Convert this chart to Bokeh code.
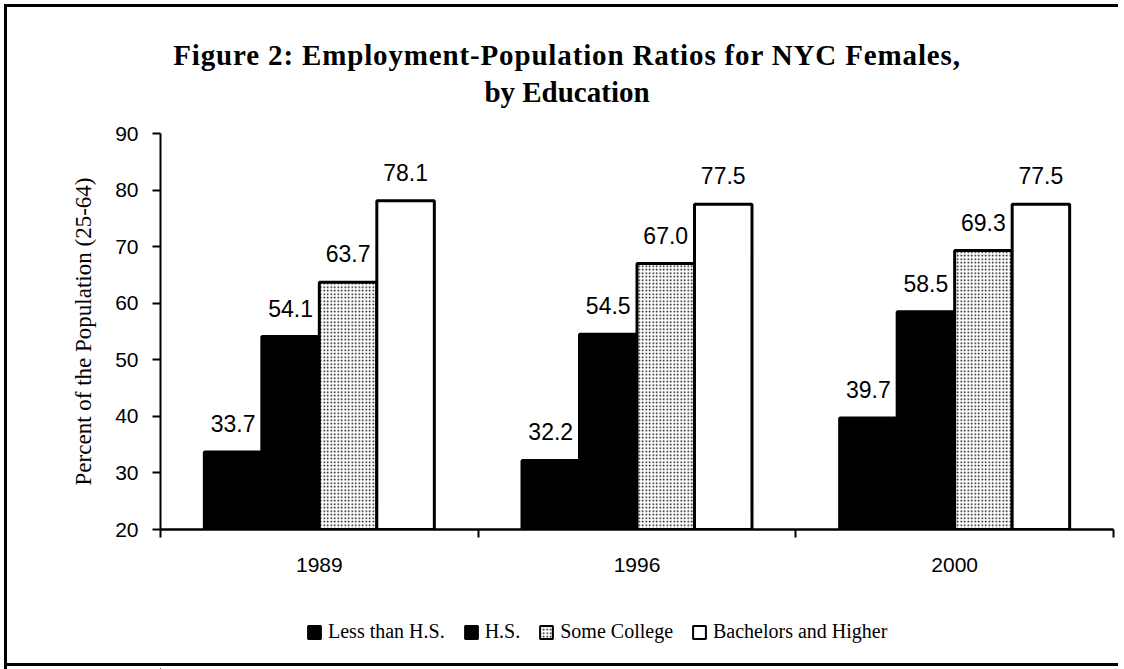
from bokeh.plotting import figure
from bokeh.models import (ColumnDataSource, Range1d, FixedTicker, Legend, LegendItem,
                          LabelSet, Div, Column)
from bokeh.core.properties import value
from bokeh.transform import dodge
from bokeh.embed import file_html
from bokeh.resources import INLINE

title_line1 = "Figure 2: Employment-Population Ratios for NYC Females,"
title_line2 = "by Education"
years = ["1989", "1996", "2000"]
less_hs = [33.7, 32.2, 39.7]
hs = [54.1, 54.5, 58.5]
some_college = [63.7, 67.0, 69.3]
bachelors = [78.1, 77.5, 77.5]
series_names = ["Less than H.S.", "H.S.", "Some College", "Bachelors and Higher"]
y_ticks = [20, 30, 40, 50, 60, 70, 80, 90]

W = 1124
xpos = list(range(len(years)))
src = ColumnDataSource(dict(x=xpos, less_hs=less_hs, hs=hs, some=some_college, ba=bachelors,
                            l1=[f"{v:.1f}" for v in less_hs], l2=[f"{v:.1f}" for v in hs],
                            l3=[f"{v:.1f}" for v in some_college], l4=[f"{v:.1f}" for v in bachelors]))

title = Div(text=(
    f'<div style="box-sizing:border-box;width:{W}px;font-family:\'Liberation Serif\',serif;'
    'font-weight:bold;font-size:29px;line-height:37px;text-align:center;color:black;'
    'padding-top:37px;padding-left:10px;white-space:nowrap;margin:0;">'
    f'<span style="letter-spacing:0.85px">{title_line1}</span><br>{title_line2}</div>'),
    width=W, height=110, margin=(0, 0, 0, 0))

p = figure(width=W, height=480, output_backend="svg", toolbar_location=None,
           x_range=Range1d(-0.5, 2.5), y_range=Range1d(20, 90),
           min_border_left=160, min_border_right=11, min_border_top=23, min_border_bottom=61,
           margin=(0, 0, 0, 0))
p.outline_line_color = None
p.grid.visible = False
p.background_fill_color = None
p.border_fill_color = None

w = 0.181
styles = [
    dict(fill_color="black", line_color="black"),
    dict(fill_color="black", line_color="black"),
    dict(fill_color="white", line_color="black", hatch_pattern="dot", hatch_color="black",
         hatch_scale=3.5, hatch_weight=1.6),
    dict(fill_color="white", line_color="black"),
]
cols = ["less_hs", "hs", "some", "ba"]
lcols = ["l1", "l2", "l3", "l4"]
offsets = [-1.5 * w, -0.5 * w, 0.5 * w, 1.5 * w]
for col, lcol, off, st in zip(cols, lcols, offsets, styles):
    p.vbar(x=dodge("x", off, range=p.x_range), top=col, bottom=0, width=w, source=src,
           line_width=3, **st)
    labels = LabelSet(x=dodge("x", off, range=p.x_range), y=col, text=lcol, source=src,
                      text_align="center", text_baseline="alphabetic", y_offset=20,
                      text_font=value("Liberation Sans"), text_font_size="23px",
                      text_color="black")
    p.add_layout(labels)

# axes
xa = p.xaxis[0]
xa.ticker = FixedTicker(ticks=xpos, minor_ticks=[-0.5, 0.5, 1.5, 2.5])
xa.major_label_overrides = {i: y for i, y in enumerate(years)}
xa.major_tick_line_color = None
xa.minor_tick_line_color = "black"
xa.minor_tick_line_width = 2
xa.minor_tick_out = 8
xa.minor_tick_in = 0
xa.major_label_standoff = 20
xa.major_label_text_font = "Liberation Sans"
xa.major_label_text_font_size = "21px"
xa.major_label_text_color = "black"
xa.axis_line_width = 2.5
xa.axis_line_color = "black"

ya = p.yaxis[0]
ya.ticker = FixedTicker(ticks=y_ticks)
ya.major_tick_out = 8
ya.major_tick_in = 0
ya.major_tick_line_width = 2
ya.minor_tick_line_color = None
ya.axis_line_width = 2
ya.axis_line_color = "black"
ya.major_label_text_font = "Liberation Sans"
ya.major_label_text_font_size = "21px"
ya.major_label_text_color = "black"
ya.major_label_standoff = 14
ya.axis_label = "Percent of the Population (25-64)"
ya.axis_label_text_font = "Liberation Serif"
ya.axis_label_text_font_style = "normal"
ya.axis_label_text_font_size = "23px"
ya.axis_label_text_color = "black"
ya.axis_label_standoff = 16

# legend strip: its own small figure; the legend sits inside that figure's frame
lf = figure(width=W, height=79, output_backend="svg", toolbar_location=None,
            x_range=Range1d(0, 1), y_range=Range1d(0, 1), min_border=0,
            x_axis_location=None, y_axis_location=None, margin=(0, 0, 0, 0))
lf.outline_line_color = None
lf.grid.visible = False
lf.border_fill_color = None
lf.background_fill_color = None
# legend-only proxy glyphs, placed outside the visible range
proxies = [lf.vbar(x=[-5], top=[-5], bottom=[-6], width=0.1, line_width=2, **st) for st in styles]
legend = Legend(items=[LegendItem(label=n, renderers=[r], index=0)
                       for n, r in zip(series_names, proxies)],
                orientation="horizontal", location=(146, 26),
                label_text_font="Liberation Serif", label_text_font_size="20px",
                label_text_color="black", glyph_width=16, glyph_height=16,
                label_standoff=6, spacing=18, border_line_color=None, margin=0, padding=4,
                background_fill_alpha=0)
lf.add_layout(legend, "center")

layout = Column(title, p, lf, spacing=0, margin=(0, 0, 0, 0),
                styles={"background-color": "white",
                        "box-shadow": ("inset -6px 0 0 0 white, "
                                       "inset 4px 4px 0 0 white, inset 7px 7px 0 0 black, "
                                       "inset 0 -3px 0 0 white, inset 0 -6px 0 0 black")})

open("out.html", "w").write(file_html(layout, INLINE))
